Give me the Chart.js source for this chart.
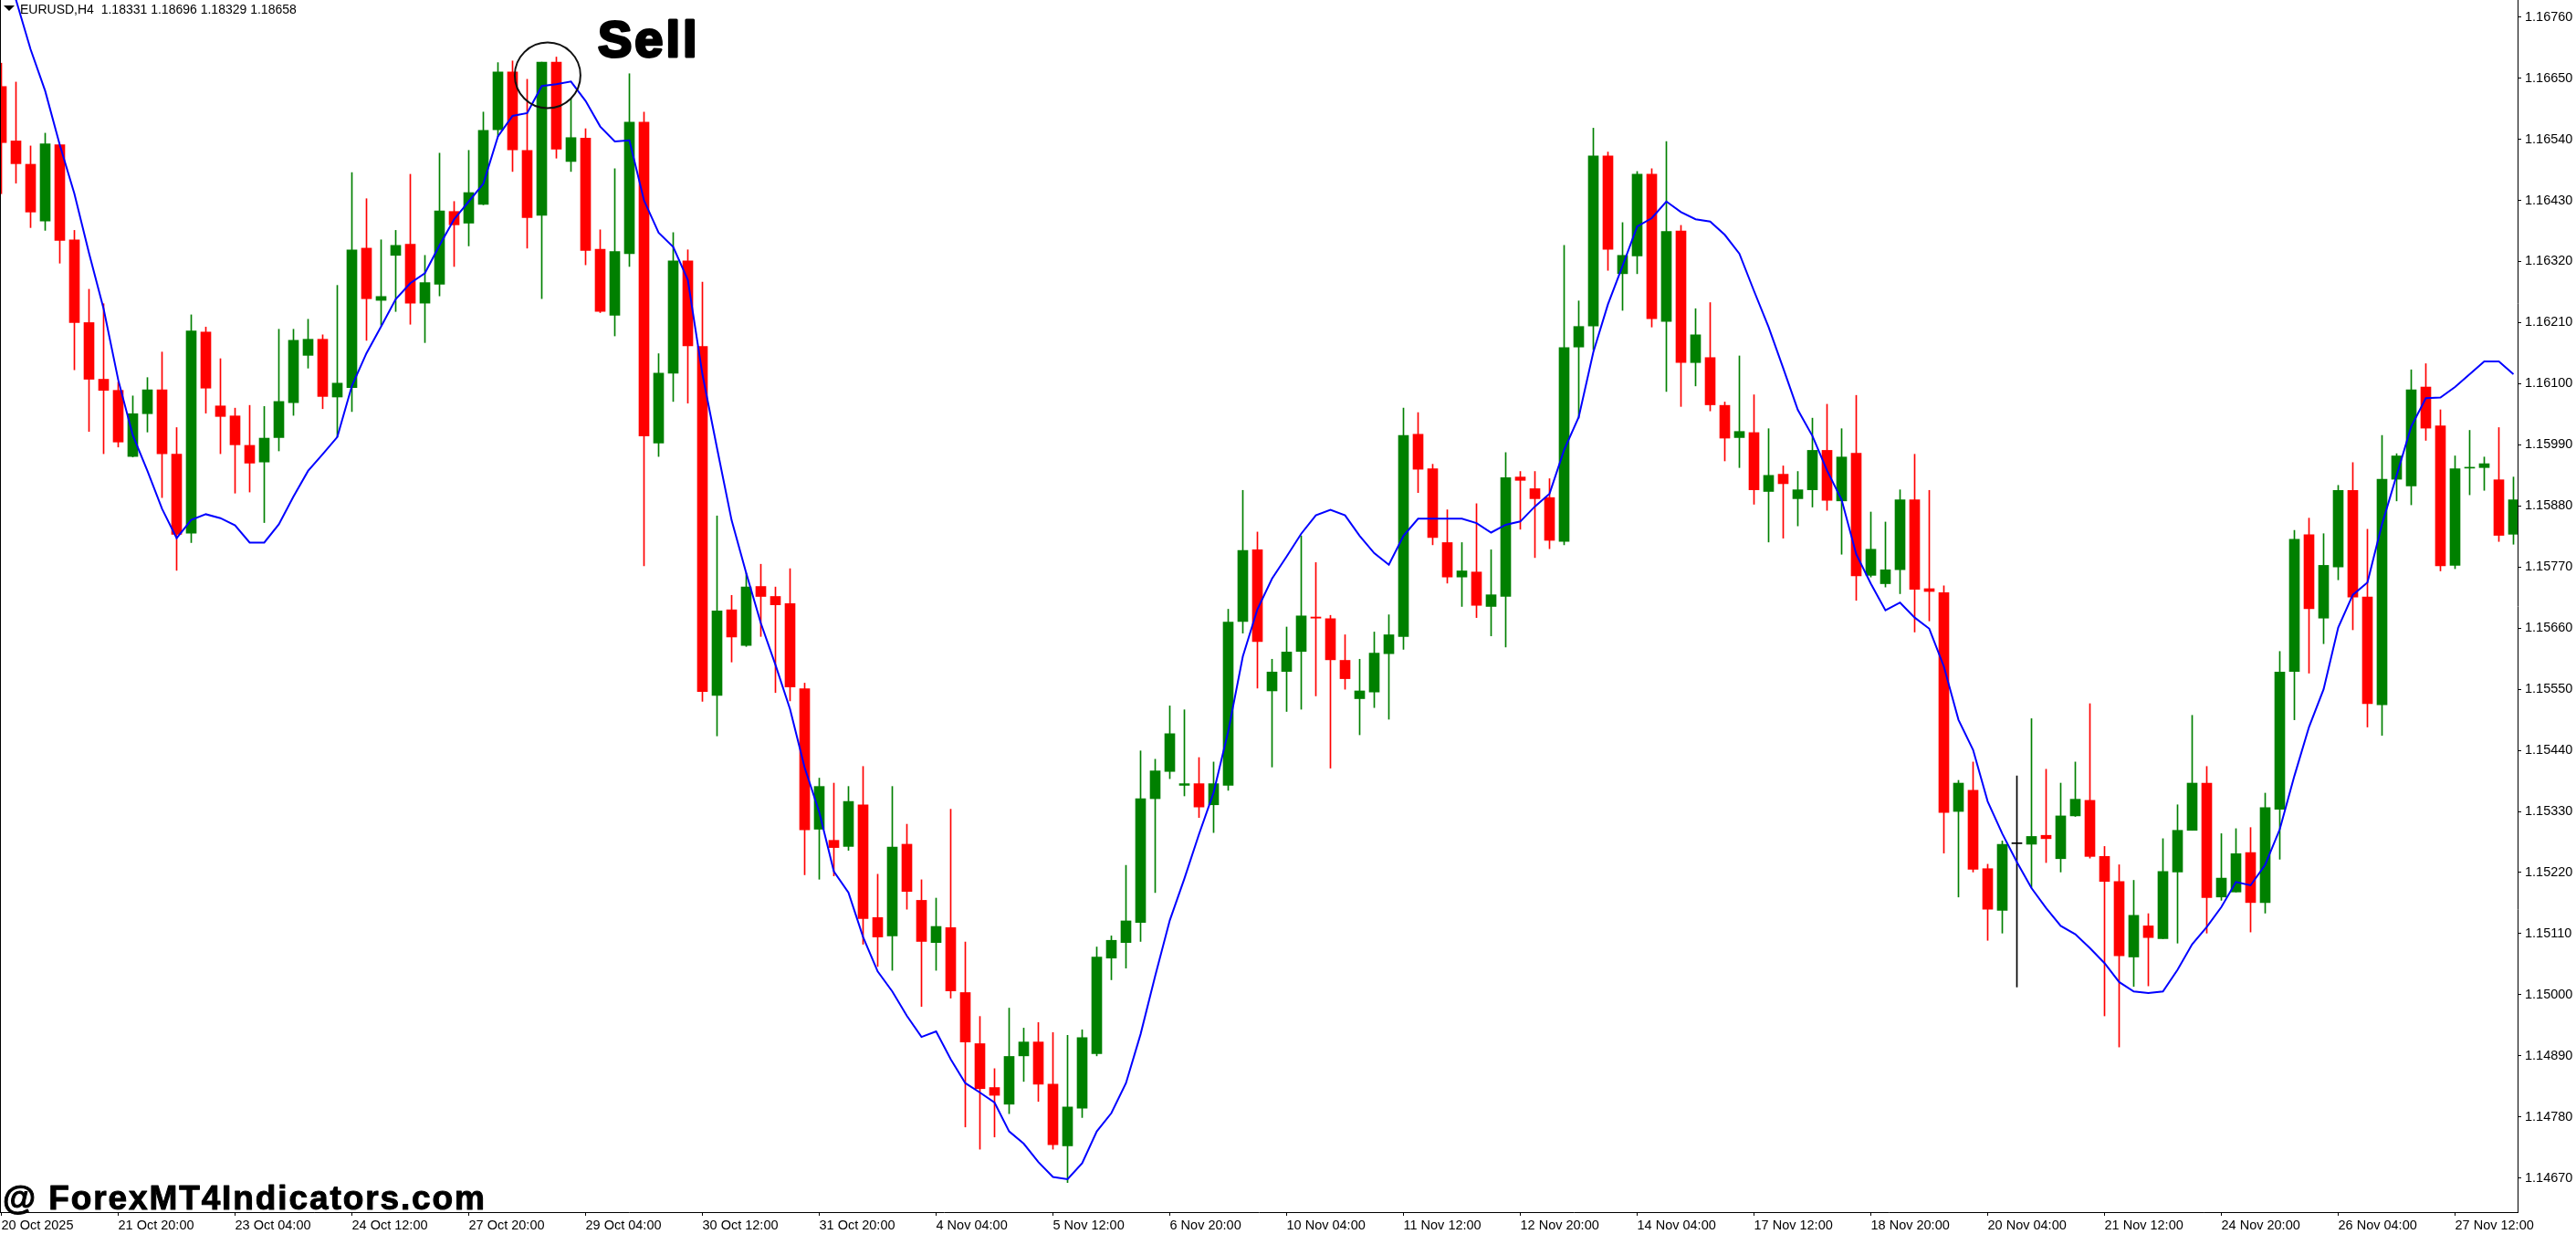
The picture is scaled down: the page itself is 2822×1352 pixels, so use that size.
<!DOCTYPE html>
<html><head><meta charset="utf-8"><title>EURUSD,H4</title>
<style>html,body{margin:0;padding:0;background:#fff;overflow:hidden}canvas{display:block}</style>
<script src="https://cdn.jsdelivr.net/npm/chart.js@4/dist/chart.umd.min.js"></script>
</head><body><canvas id="c" width="2822" height="1352" style="width:2822px;height:1352px"></canvas>
<script>
const openPrices=[1.16635,1.16537,1.16495,1.16393,1.16530,1.16359,1.16210,1.16108,1.16088,1.15969,
1.16046,1.16089,1.15973,1.15831,1.16193,1.16060,1.16042,1.15989,1.15959,1.16003,
1.16066,1.16151,1.16180,1.16076,1.16093,1.16344,1.16250,1.16331,1.16351,1.16245,
1.16279,1.16410,1.16389,1.16423,1.16557,1.16661,1.16520,1.16403,1.16679,1.16500,
1.16542,1.16342,1.16223,1.16334,1.16571,1.15993,1.16119,1.16321,1.16167,1.15539,
1.15693,1.15629,1.15735,1.15717,1.15704,1.15551,1.15298,1.15278,1.15267,1.15342,
1.15139,1.15106,1.15271,1.15170,1.15094,1.15121,1.15004,1.14912,1.14833,1.14803,
1.14890,1.14915,1.14839,1.14728,1.14796,1.14894,1.15066,1.15094,1.15130,1.15353,
1.15402,1.15377,1.15380,1.15342,1.15377,1.15672,1.15801,1.15547,1.15582,1.15618,
1.15680,1.15677,1.15602,1.15533,1.15545,1.15614,1.15645,1.16009,1.15947,1.15814,
1.15752,1.15761,1.15699,1.15717,1.15932,1.15911,1.15895,1.15816,1.16166,1.16204,
1.16510,1.16298,1.16330,1.16477,1.16212,1.16375,1.16138,1.16147,1.16061,1.16003,
1.16012,1.15906,1.15937,1.15893,1.15909,1.15980,1.15889,1.15975,1.15755,1.15740,
1.15765,1.15891,1.15731,1.15724,1.15330,1.15368,1.15227,1.15152,1.15272,1.15271,
1.15287,1.15245,1.15322,1.15350,1.15249,1.15204,1.15068,1.15124,1.15101,1.15221,
1.15296,1.15381,1.15176,1.15185,1.15256,1.15166,1.15334,1.15582,1.15828,1.15678,
1.15770,1.15908,1.15716,1.15522,1.15928,1.15916,1.16094,1.16024,1.15773,1.15948,
1.15949,1.15927,1.15829];
const closePrices=[1.16534,1.16496,1.16409,1.16532,1.16358,1.16210,1.16108,1.16088,1.15995,1.16046,
1.16089,1.15974,1.15829,1.16195,1.16092,1.16041,1.15990,1.15957,1.16002,1.16068,
1.16178,1.16180,1.16077,1.16101,1.16341,1.16253,1.16257,1.16349,1.16245,1.16282,
1.16411,1.16386,1.16444,1.16556,1.16661,1.16521,1.16399,1.16679,1.16522,1.16543,
1.16340,1.16230,1.16338,1.16571,1.16006,1.16119,1.16321,1.16168,1.15546,1.15691,
1.15644,1.15734,1.15717,1.15702,1.15554,1.15297,1.15375,1.15265,1.15348,1.15137,
1.15104,1.15266,1.15186,1.15096,1.15123,1.15007,1.14915,1.14831,1.14819,1.14889,
1.14915,1.14839,1.14730,1.14798,1.14923,1.15068,1.15098,1.15133,1.15353,1.15403,
1.15470,1.15380,1.15338,1.15380,1.15671,1.15800,1.15636,1.15581,1.15617,1.15682,
1.15678,1.15603,1.15569,1.15547,1.15615,1.15648,1.16007,1.15946,1.15823,1.15752,
1.15763,1.15701,1.15720,1.15931,1.15926,1.15893,1.15818,1.16165,1.16203,1.16510,
1.16342,1.16331,1.16477,1.16217,1.16374,1.16138,1.16188,1.16062,1.16002,1.16014,
1.15909,1.15935,1.15920,1.15909,1.15980,1.15890,1.15968,1.15754,1.15802,1.15765,
1.15891,1.15730,1.15726,1.15328,1.15381,1.15226,1.15154,1.15271,1.15272,1.15285,
1.15281,1.15322,1.15352,1.15249,1.15204,1.15070,1.15143,1.15103,1.15222,1.15296,
1.15381,1.15175,1.15210,1.15254,1.15166,1.15337,1.15581,1.15820,1.15695,1.15773,
1.15908,1.15716,1.15524,1.15928,1.15970,1.16089,1.16020,1.15772,1.15947,1.15949,
1.15956,1.15827,1.15891];
const highPrices=[1.16677,1.16643,1.16528,1.16551,1.16530,1.16376,1.16270,1.16244,1.16103,1.16078,
1.16111,1.16157,1.16021,1.16224,1.16202,1.16145,1.16056,1.16061,1.16059,1.16198,
1.16198,1.16216,1.16188,1.16277,1.16480,1.16433,1.16359,1.16376,1.16477,1.16331,
1.16515,1.16428,1.16520,1.16589,1.16678,1.16681,1.16648,1.16679,1.16688,1.16613,
1.16559,1.16377,1.16487,1.16658,1.16589,1.16154,1.16372,1.16341,1.16283,1.15862,
1.15719,1.15759,1.15775,1.15734,1.15767,1.15561,1.15390,1.15381,1.15375,1.15411,
1.15217,1.15375,1.15307,1.15207,1.15174,1.15334,1.15095,1.14961,1.14867,1.14976,
1.14940,1.14950,1.14932,1.14927,1.14937,1.15086,1.15106,1.15233,1.15439,1.15424,
1.15520,1.15513,1.15427,1.15419,1.15694,1.15908,1.15833,1.15604,1.15662,1.15826,
1.15778,1.15683,1.15648,1.15604,1.15653,1.15684,1.16056,1.16048,1.15955,1.15873,
1.15814,1.15884,1.15801,1.15976,1.15942,1.15942,1.15929,1.16349,1.16249,1.16560,
1.16517,1.16390,1.16482,1.16487,1.16536,1.16385,1.16235,1.16246,1.16067,1.16150,
1.16080,1.16019,1.15952,1.15942,1.16038,1.16063,1.16019,1.16079,1.15869,1.15851,
1.15909,1.15973,1.15908,1.15736,1.15386,1.15419,1.15235,1.15277,1.15394,1.15497,
1.15406,1.15381,1.15419,1.15524,1.15267,1.15234,1.15206,1.15146,1.15281,1.15342,
1.15503,1.15411,1.15290,1.15299,1.15301,1.15363,1.15618,1.15836,1.15858,1.15830,
1.15917,1.15958,1.15838,1.16007,1.15974,1.16125,1.16136,1.16053,1.15970,1.16016,
1.15968,1.16021,1.15932];
const lowPrices=[1.16442,1.16461,1.16381,1.16376,1.16317,1.16125,1.16014,1.15974,1.15986,1.15968,
1.16013,1.15895,1.15764,1.15814,1.16047,1.15974,1.15903,1.15905,1.15850,1.15979,
1.16043,1.16128,1.16055,1.16004,1.16050,1.16178,1.16205,1.16230,1.16207,1.16174,
1.16258,1.16311,1.16348,1.16422,1.16545,1.16482,1.16344,1.16253,1.16506,1.16482,
1.16314,1.16228,1.16186,1.16311,1.15772,1.15969,1.16068,1.16065,1.15528,1.15466,
1.15599,1.15627,1.15645,1.15544,1.15529,1.15216,1.15208,1.15214,1.15260,1.15091,
1.15051,1.15044,1.15154,1.14979,1.15044,1.14994,1.14762,1.14722,1.14744,1.14786,
1.14844,1.14808,1.14722,1.14662,1.14779,1.14890,1.15027,1.15048,1.15096,1.15184,
1.15389,1.15358,1.15319,1.15292,1.15368,1.15651,1.15552,1.15410,1.15510,1.15514,
1.15538,1.15408,1.15550,1.15468,1.15517,1.15496,1.15622,1.15904,1.15810,1.15741,
1.15699,1.15679,1.15646,1.15626,1.15838,1.15787,1.15803,1.15810,1.16038,1.16161,
1.16304,1.16232,1.16298,1.16202,1.16086,1.16059,1.16096,1.16051,1.15961,1.15949,
1.15883,1.15815,1.15822,1.15844,1.15878,1.15872,1.15793,1.15710,1.15752,1.15734,
1.15722,1.15653,1.15673,1.15255,1.15176,1.15221,1.15098,1.15111,1.15014,1.15193,
1.15238,1.15221,1.15321,1.15246,1.14962,1.14906,1.15015,1.15016,1.15101,1.15093,
1.15296,1.15111,1.15170,1.15185,1.15113,1.15147,1.15244,1.15495,1.15579,1.15632,
1.15747,1.15657,1.15482,1.15467,1.15889,1.15882,1.15998,1.15763,1.15767,1.15900,
1.15908,1.15816,1.15811];
const movingAverage=[1.16884,1.16791,1.16702,1.16627,1.16530,1.16442,1.16335,1.16235,1.16107,1.16007,
1.15943,1.15875,1.15822,1.15855,1.15865,1.15858,1.15845,1.15814,1.15814,1.15847,
1.15897,1.15943,1.15973,1.16004,1.16096,1.16155,1.16203,1.16252,1.16281,1.16299,
1.16349,1.16396,1.16428,1.16460,1.16545,1.16582,1.16587,1.16636,1.16639,1.16644,
1.16609,1.16563,1.16536,1.16538,1.16430,1.16372,1.16346,1.16287,1.16117,1.15984,
1.15854,1.15759,1.15669,1.15594,1.15514,1.15409,1.15329,1.15222,1.15184,1.15104,
1.15042,1.15006,1.14962,1.14924,1.14934,1.14884,1.14841,1.14824,1.14806,1.14754,
1.14732,1.14699,1.14672,1.14668,1.14697,1.14754,1.14787,1.14841,1.14929,1.15034,
1.15134,1.15209,1.15289,1.15364,1.15474,1.15609,1.15694,1.15749,1.15789,1.15830,
1.15863,1.15873,1.15863,1.15826,1.15795,1.15774,1.15826,1.15857,1.15857,1.15857,
1.15857,1.15849,1.15832,1.15846,1.15852,1.15879,1.15902,1.15981,1.16040,1.16157,
1.16243,1.16312,1.16383,1.16398,1.16428,1.16409,1.16396,1.16392,1.16368,1.16334,
1.16267,1.16202,1.16128,1.16053,1.16006,1.15944,1.15891,1.15793,1.15740,1.15692,
1.15706,1.15679,1.15659,1.15591,1.15495,1.15441,1.15348,1.15290,1.15239,1.15192,
1.15156,1.15124,1.15109,1.15084,1.15057,1.15023,1.15006,1.15003,1.15006,1.15045,
1.15091,1.15122,1.15158,1.15203,1.15197,1.15234,1.15298,1.15394,1.15482,1.15550,
1.15661,1.15720,1.15742,1.15847,1.15935,1.16023,1.16074,1.16075,1.16094,1.16117,
1.16140,1.16140,1.16117];
const priceTicks=[1.16760,1.16650,1.16540,1.16430,1.16320,1.16210,1.16100,1.15990,1.15880,1.15770,1.15660,1.15550,1.15440,1.15330,1.15220,1.15110,1.15000,1.14890,1.14780,1.14670];
const dateTickBars=[0,8,16,24,32,40,48,56,64,72,80,88,96,104,112,120,128,136,144,152,160,168];
const dateTickLabels=["20 Oct 2025","21 Oct 20:00","23 Oct 04:00","24 Oct 12:00","27 Oct 20:00","29 Oct 04:00","30 Oct 12:00","31 Oct 20:00","4 Nov 04:00","5 Nov 12:00","6 Nov 20:00","10 Nov 04:00","11 Nov 12:00","12 Nov 20:00","14 Nov 04:00","17 Nov 12:00","18 Nov 20:00","20 Nov 04:00","21 Nov 12:00","24 Nov 20:00","26 Nov 04:00","27 Nov 12:00"];
const headerText="EURUSD,H4  1.18331 1.18696 1.18329 1.18658";
const sellText="Sell";
const watermarkText="@ ForexMT4Indicators.com";
const sellBar=37.4, sellPrice=1.16655;

const UP='#008000',DOWN='#ff0000',FLAT='#000000';
const candleColor=i=>closePrices[i]>openPrices[i]?UP:closePrices[i]<openPrices[i]?DOWN:FLAT;
const FONT='"Liberation Sans", Arial, sans-serif';
const noPadding=s=>{s.paddingLeft=s.paddingRight=s.paddingTop=s.paddingBottom=0;};

const overlay={id:'overlay',afterDatasetsDraw(chart){
  const g=chart.ctx,{x,y}=chart.scales,a=chart.chartArea;
  g.save();
  g.strokeStyle='#000';g.lineWidth=1;
  g.beginPath();g.moveTo(0.5,0);g.lineTo(0.5,a.bottom);g.stroke();
  g.fillStyle='#000';
  g.beginPath();g.moveTo(4,6);g.lineTo(16,6);g.lineTo(10,12);g.closePath();g.fill();
  g.font='14px '+FONT;g.textBaseline='alphabetic';g.textAlign='left';
  g.fillText(headerText,22,15);
  g.strokeStyle='#111';g.lineWidth=2;
  g.beginPath();g.arc(x.getPixelForValue(sellBar),y.getPixelForValue(sellPrice),36,0,Math.PI*2);g.stroke();
  g.font='bold 56px '+FONT;g.letterSpacing='3px';g.lineWidth=3;g.lineJoin='round';g.strokeStyle='#000';
  g.fillText(sellText,655,62);g.strokeText(sellText,655,62);
  g.font='bold 37px '+FONT;g.letterSpacing='1.9px';g.lineWidth=1;
  g.fillText(watermarkText,3,1325);g.strokeText(watermarkText,3,1325);
  g.restore();
}};

new Chart(document.getElementById('c'),{
  type:'bar',
  data:{datasets:[
    {type:'line',order:0,data:movingAverage.map((v,i)=>({x:i,y:v})),borderColor:'#0000ff',borderWidth:2,pointRadius:0,tension:0,fill:false},
    {order:1,data:openPrices.map((v,i)=>({x:i,y:[v,closePrices[i]]})),backgroundColor:openPrices.map((v,i)=>candleColor(i)),borderWidth:0,borderSkipped:false,grouped:false,categoryPercentage:1,barPercentage:1,maxBarThickness:11,minBarLength:1},
    {order:2,data:lowPrices.map((v,i)=>({x:i,y:[v,highPrices[i]]})),backgroundColor:lowPrices.map((v,i)=>candleColor(i)),borderWidth:0,borderSkipped:false,grouped:false,categoryPercentage:1,barPercentage:1,maxBarThickness:1}
  ]},
  options:{
    responsive:false,animation:false,devicePixelRatio:1,
    layout:{padding:0},
    plugins:{legend:{display:false},tooltip:{enabled:false},title:{display:false}},
    scales:{
      x:{type:'linear',position:'bottom',offset:false,min:-0.09375,max:172.28125,
        afterBuildTicks(s){s.ticks=dateTickBars.map(v=>({value:v}));},
        afterFit(s){s.height=24;noPadding(s);},
        grid:{offset:false,drawOnChartArea:false,drawTicks:true,tickLength:4,tickColor:'#000'},
        border:{color:'#000',width:1},
        ticks:{autoSkip:false,maxRotation:0,minRotation:0,align:'start',padding:2,color:'#000',font:{family:FONT,size:14.5},
          callback(v){const k=dateTickBars.indexOf(v);return k<0?'':dateTickLabels[k];}}},
      y:{type:'linear',position:'right',min:1.146088,max:1.167907,
        afterBuildTicks(s){s.ticks=priceTicks.map(v=>({value:v}));},
        afterFit(s){s.width=64;noPadding(s);},
        grid:{drawOnChartArea:false,drawTicks:true,tickLength:4,tickColor:'#000'},
        border:{color:'#000',width:1},
        ticks:{autoSkip:false,padding:4,color:'#000',font:{family:FONT,size:14.5},callback(v){return v.toFixed(5);}}}
    }
  },
  plugins:[overlay]
});
</script></body></html>
